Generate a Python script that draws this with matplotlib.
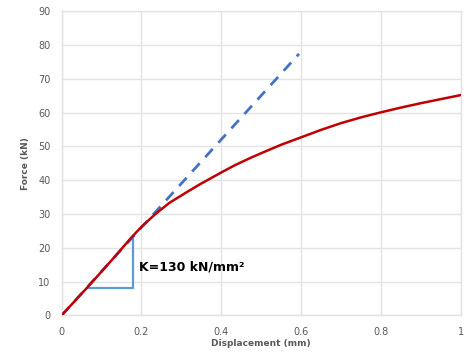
import matplotlib.pyplot as plt

# measured force-displacement curve
disp = [0, 0.067, 0.126, 0.176, 0.2, 0.235, 0.27, 0.318, 0.348, 0.4, 0.435, 0.473,
        0.5, 0.55, 0.6, 0.65, 0.7, 0.75, 0.8, 0.85, 0.9, 0.95, 1.0]
force = [0, 8.6, 16.4, 23.2, 26.2, 30.0, 33.3, 36.8, 38.9, 42.3, 44.5, 46.6,
         48.0, 50.5, 52.7, 54.9, 56.9, 58.6, 60.1, 61.5, 62.8, 64.0, 65.2]

# initial stiffness line
stiff_x = [0, 0.595]
stiff_y = [0, 77.4]

# slope triangle
tri_x = [0.066, 0.179, 0.179]
tri_y = [8.0, 8.0, 23.5]

xticks = [0, 0.2, 0.4, 0.6, 0.8, 1]
xticklabels = ["0", "0.2", "0.4", "0.6", "0.8", "1"]
yticks = list(range(0, 91, 10))

fig = plt.figure(figsize=(4.67, 3.52), dpi=100)
ax = fig.add_axes([0.1317, 0.1037, 0.8548, 0.8643])

ax.plot(stiff_x, stiff_y, color="#4472C4", lw=2, dashes=(4, 3), zorder=3)
ax.plot(disp, force, color="#C00000", lw=1.8, zorder=4, solid_joinstyle="round")
ax.plot(tri_x, tri_y, color="#5B9BD5", lw=1.6, zorder=2)
ax.text(0.193, 14.4, "K=130 kN/mm²", fontsize=9, fontweight="bold",
        color="black", va="center", ha="left")

ax.set_xlim(0, 1)
ax.set_ylim(0, 90)
ax.set_xticks(xticks)
ax.set_xticklabels(xticklabels)
ax.set_yticks(yticks)
ax.grid(True, color="#E3E3E3", lw=1)
ax.set_axisbelow(True)
for s in ax.spines.values():
    s.set_color("#E3E3E3")
    s.set_linewidth(1)
ax.tick_params(length=0, labelsize=7, colors="#595959", pad=8)

ax.set_xlabel("Displacement (mm)", fontsize=6.5, color="#595959", fontweight="bold", labelpad=2)
ax.set_ylabel("Force (kN)", fontsize=6.5, color="#595959", fontweight="bold", labelpad=6)

fig.savefig("out.png", dpi=100)
